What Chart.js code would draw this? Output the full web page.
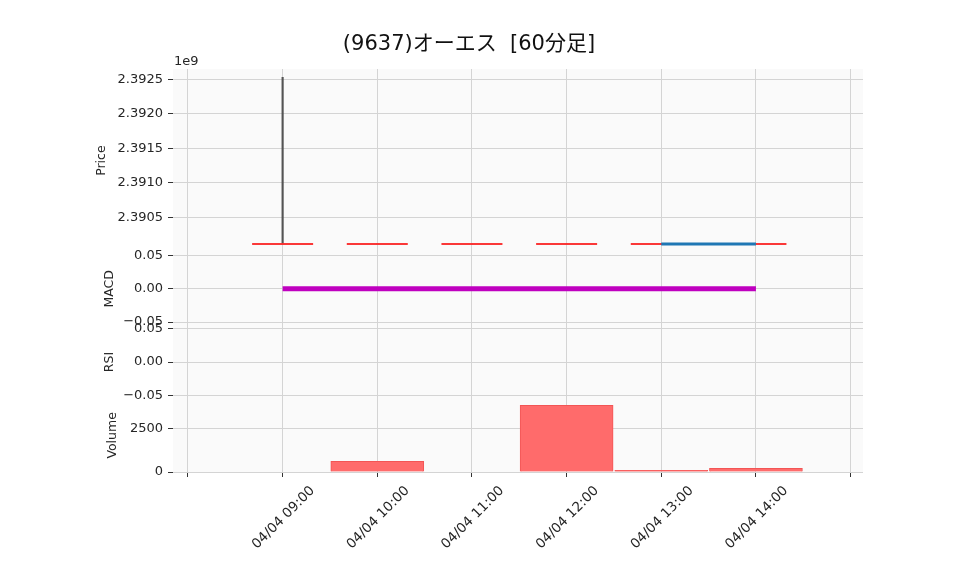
<!DOCTYPE html>
<html>
<head>
<meta charset="utf-8">
<script src="https://cdn.jsdelivr.net/npm/chart.js@4.4.0/dist/chart.umd.min.js"></script>
<style>
html,body{margin:0;padding:0;background:#fff;}
#wrap{width:958px;height:575px;position:relative;}
</style>
</head>
<body>
<div id="wrap"><canvas id="c"></canvas></div>
<script>
// ---- data ----
const chartTitle = '(9637)オーエス  [60分足]';
const times   = ['04/04 09:00','04/04 10:00','04/04 11:00','04/04 12:00','04/04 13:00','04/04 14:00'];
const opens   = [2390113000, 2390113000, 2390113000, 2390113000, 2390113000, 2390113000];
const highs   = [2392529000, 2390113000, 2390113000, 2390113000, 2390113000, 2390113000];
const lows    = [2390113000, 2390113000, 2390113000, 2390113000, 2390113000, 2390113000];
const closes  = [2390113000, 2390113000, 2390113000, 2390113000, 2390113000, 2390113000];
const sma     = [null, null, null, null, 2390113000, 2390113000];
const macd    = [0, 0, 0, 0, 0, 0];
const volumes = [0, 616, 0, 3842, 98, 213];
const priceTicks  = [2390500000, 2391000000, 2391500000, 2392000000, 2392500000];
const macdTicks   = [-0.05, 0, 0.05];
const rsiTicks    = [-0.05, 0, 0.05];
const volumeTicks = [0, 2500];

const FONT = "'DejaVu Sans', 'Noto Sans CJK JP', sans-serif";
Chart.defaults.font.family = FONT;
Chart.defaults.color = '#262626';

const idx = times.map((_, i) => i);
const GRID = '#d4d4d4';

function fixTicks(list){ return function(scale){ scale.ticks = list.map(v => ({value: v})); }; }
function fmt2(v){ const s = Math.abs(v).toFixed(2); return v < 0 ? '\u2212' + s : s; }

function yAxis(opts){
  return Object.assign({
    type: 'linear', position: 'left', stack: 'panels',
    border: {display: false},
    grid: {color: GRID, tickColor: '#333', tickLength: 5, lineWidth: 1},
    afterFit: s => { s.width = 82; },
  }, opts);
}

const bgPlugin = {
  id: 'bg',
  beforeDraw(chart){
    const {ctx, chartArea: a} = chart;
    ctx.save();
    ctx.fillStyle = '#fafafa';
    ctx.fillRect(a.left, a.top, a.right - a.left, a.bottom - a.top);
    ctx.restore();
  },
  afterDraw(chart){
    const {ctx, chartArea: a} = chart;
    ctx.save();
    ctx.fillStyle = '#111';
    ctx.font = "21px " + FONT;
    ctx.textAlign = 'center';
    ctx.textBaseline = 'middle';
    ctx.fillText(chartTitle, 469, 45);
    ctx.fillStyle = '#262626';
    ctx.font = "13px " + FONT;
    ctx.textAlign = 'left';
    ctx.textBaseline = 'alphabetic';
    ctx.fillText('1e9', a.left + 1, 65);
    ctx.restore();
  }
};

new Chart(document.getElementById('c'), {
  type: 'bar',
  data: {
    datasets: [
      { // wicks
        type: 'bar', yAxisID: 'yPrice', grouped: false,
        data: idx.map(i => ({x: i, y: [lows[i], highs[i]]})),
        backgroundColor: 'rgba(70,70,70,0.9)', borderWidth: 0, barThickness: 1.5, order: 3
      },
      { // candle bodies (open == close → flat)
        type: 'scatter', yAxisID: 'yPrice',
        data: idx.map(i => ({x: i, y: closes[i]})),
        pointStyle: 'line', radius: 30.5, borderColor: 'rgba(250,45,45,0.95)', borderWidth: 2,
        order: 2
      },
      { // moving average
        type: 'line', yAxisID: 'yPrice',
        data: idx.map(i => ({x: i, y: sma[i]})),
        borderColor: '#1f77b4', borderWidth: 3, pointRadius: 0, spanGaps: false, order: 1
      },
      { // MACD
        type: 'line', yAxisID: 'yMacd',
        data: idx.map(i => ({x: i, y: macd[i]})),
        borderColor: '#bf00bf', borderWidth: 5, pointRadius: 0, order: 1
      },
      { // volume
        type: 'bar', yAxisID: 'yVol', grouped: false,
        data: idx.map(i => ({x: i, y: volumes[i]})),
        backgroundColor: '#ff6b6b', borderColor: '#f25555', borderWidth: 1,
        barThickness: 93, order: 4
      }
    ]
  },
  options: {
    responsive: true, maintainAspectRatio: false, animation: false,
    events: [],
    layout: {padding: {left: 91, right: 95, top: 69, bottom: 0}},
    plugins: {legend: {display: false}, tooltip: {enabled: false}, title: {display: false}},
    scales: {
      x: {
        type: 'linear', position: 'bottom', min: -1.158, max: 6.131, offset: false,
        border: {display: false},
        grid: {color: GRID, tickColor: '#333', tickLength: 5, lineWidth: 1, offset: false},
        afterBuildTicks: s => { const t = []; for (let i = -1; i <= times.length; i++) t.push({value: i}); s.ticks = t; },
        afterFit: s => { s.height = 103; },
        ticks: {
          autoSkip: false, maxRotation: 45, minRotation: 45, labelOffset: 30, padding: 6,
          font: {size: 13.5}, color: '#262626',
          callback: v => (Number.isInteger(v) && v >= 0 && v < times.length) ? times[v] : ''
        }
      },
      yVol: yAxis({
        stackWeight: 2, min: 0, max: 4226,
        afterBuildTicks: fixTicks(volumeTicks),
        ticks: {font: {size: 13}, padding: 5, callback: v => String(v)},
        title: {display: true, text: 'Volume', font: {size: 12.5}, padding: {top: 14.5, bottom: 0}}
      }),
      yRsi: yAxis({
        stackWeight: 2, min: -0.055, max: 0.055,
        afterBuildTicks: fixTicks(rsiTicks),
        ticks: {font: {size: 13}, padding: 5, callback: v => fmt2(v)},
        title: {display: true, text: 'RSI', font: {size: 12.5}, padding: {top: 11.5, bottom: 0}}
      }),
      yMacd: yAxis({
        stackWeight: 2, min: -0.055, max: 0.055,
        afterBuildTicks: fixTicks(macdTicks),
        ticks: {font: {size: 13}, padding: 5, callback: v => fmt2(v)},
        title: {display: true, text: 'MACD', font: {size: 12.5}, padding: {top: 11.5, bottom: 0}}
      }),
      yPrice: yAxis({
        stackWeight: 5, min: 2389994203, max: 2392649275,
        afterBuildTicks: fixTicks(priceTicks),
        ticks: {font: {size: 13}, padding: 5, callback: v => (v / 1e9).toFixed(4)},
        title: {display: true, text: 'Price', font: {size: 12.5}, padding: {top: 3.5, bottom: 0}}
      })
    }
  },
  plugins: [bgPlugin]
});
</script>
</body>
</html>
